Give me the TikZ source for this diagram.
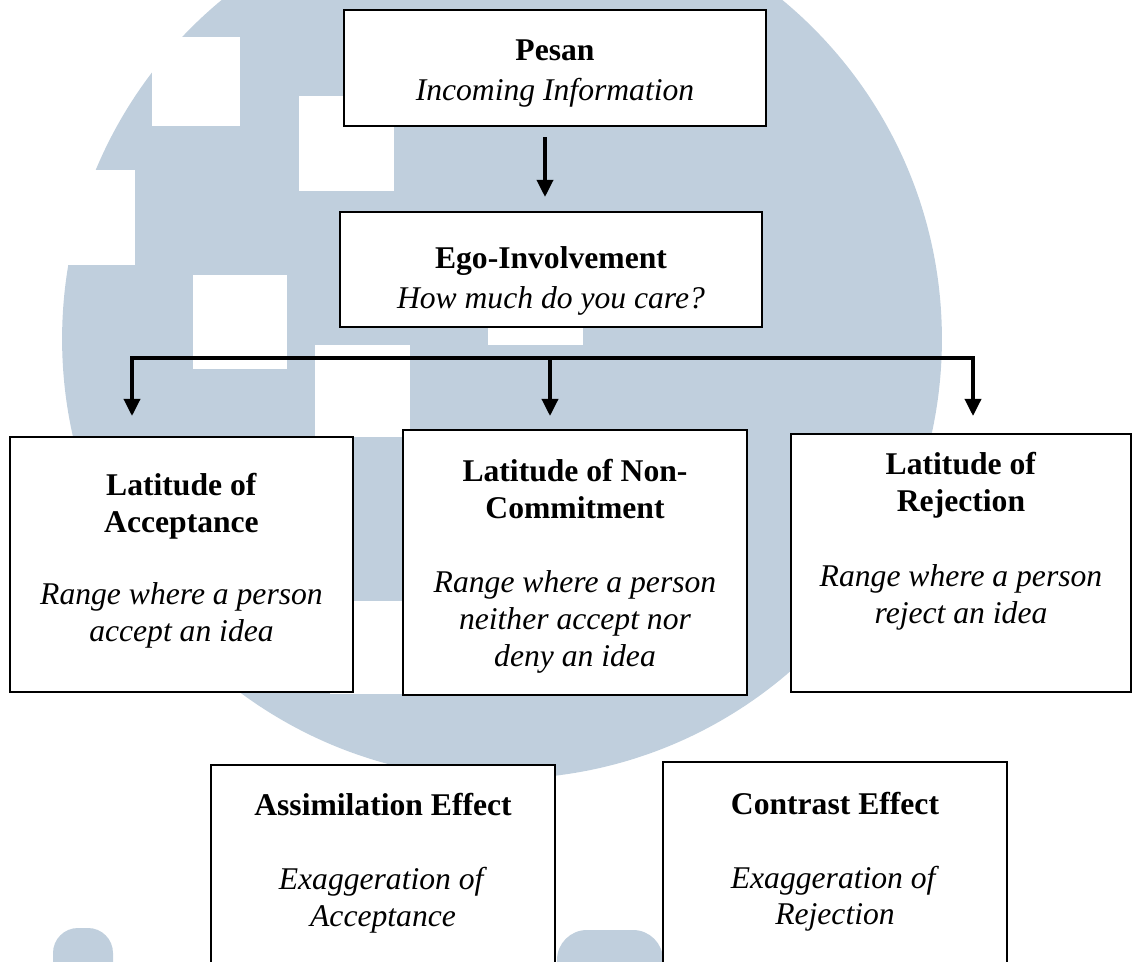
\documentclass[tikz,border=0pt]{standalone}
\usepackage{fontspec}
\setmainfont{Liberation Serif}
\usetikzlibrary{arrows.meta}

\definecolor{logoblue}{RGB}{192,207,221}
\newcommand{\lowpad}[1]{\rule[-#1]{0pt}{0pt}}
\newcommand{\highpad}[1]{\rule{0pt}{#1}}

\begin{document}
\begin{tikzpicture}[
                x=0.02cm, y=-0.02cm,
                every node/.style={align=center, font=\fontsize{18}{21}\selectfont},
                main node/.style={draw, fill=white, line width=1.2pt, inner sep=0pt},
                edge/.style={line width=2pt},
                arrow edge/.style={edge, -{Triangle[width=0.32cm, length=0.34cm]}}
            ]
            \useasboundingbox (0,0) rectangle (1133,962);
            \clip (0,0) rectangle (1133,962);

            % Logo in the background
            \fill[logoblue] (502,339) circle (8.8cm);
            \fill[white] (152,37) rectangle (240,126);
            \fill[white] (299,96) rectangle (394,191);
            \fill[white] (193,275) rectangle (287,369);
            \fill[white] (315,345) rectangle (410,437);
            \fill[white] (330,601) rectangle (403,694);
            \fill[white] (488,250) rectangle (583,345);
            \fill[white] (0,170) rectangle (135,265);
            \fill[logoblue, rounded corners=0.5cm] (53,1000) -- (53,928) -- (113,928) -- (113,1000) -- cycle;
            \fill[logoblue, rounded corners=0.6cm] (557,1000) -- (557,930) -- (663,930) -- (663,1000) -- cycle;

            % Nodes
            \node[main node, minimum width=8.44cm, minimum height=2.32cm] (pesan) at (555,68)
                {\highpad{0.63cm}\textbf{Pesan}\\[2pt] \textit{Incoming Information}};
            \node[main node, minimum width=8.44cm, minimum height=2.3cm] (ego) at (551,269.5)
                {\highpad{0.9cm}\textbf{Ego-Involvement}\\[2pt] \textit{How much do you care?}};

            \node[main node, minimum width=6.86cm, minimum height=5.1cm] (accept) at (181.5,564.5)
                {\textbf{Latitude of}\\ \textbf{Acceptance}\\[20pt]
                 \textit{Range where a person}\\ \textit{accept an idea}\lowpad{0.3cm}};
            \node[main node, minimum width=6.88cm, minimum height=5.3cm] (noncommit) at (575,562.5)
                {\highpad{0.6cm}\textbf{Latitude of Non-}\\ \textbf{Commitment}\\[21pt]
                 \textit{Range where a person}\\ \textit{neither accept nor}\\ \textit{deny an idea}};
            \node[main node, minimum width=6.8cm, minimum height=5.16cm] (reject) at (961,563)
                {\textbf{Latitude of}\\ \textbf{Rejection}\\[22pt]
                 \textit{Range where a person}\\ \textit{reject an idea}\lowpad{1cm}};

            \node[main node, minimum width=6.88cm, minimum height=4.8cm] (assim) at (383,885)
                {\textbf{Assimilation Effect}\\[21pt]
                 \textit{Exaggeration of}\\ \textit{Acceptance}\lowpad{1cm}};
            \node[main node, minimum width=6.88cm, minimum height=4.86cm] (contrast) at (835,883.5)
                {\textbf{Contrast Effect}\\[21pt]
                 \textit{Exaggeration of}\\ \textit{Rejection}\lowpad{1cm}};

            % Edges
            \coordinate (stem) at (545,0);
            \draw[arrow edge, shorten <=0.2cm, shorten >=0.28cm] (pesan.south -| stem) -- (ego.north -| stem);

            \coordinate (barL) at (132,358);
            \coordinate (barM) at (550,358);
            \coordinate (barR) at (973,358);
            \draw[edge, line cap=rect] (barL) -- (barR);
            \draw[arrow edge, shorten >=0.4cm] (barL) -- (barL |- accept.north);
            \draw[arrow edge, shorten >=0.26cm] (barM) -- (barM |- noncommit.north);
            \draw[arrow edge, shorten >=0.34cm] (barR) -- (barR |- reject.north);

            \end{tikzpicture}
\end{document}
